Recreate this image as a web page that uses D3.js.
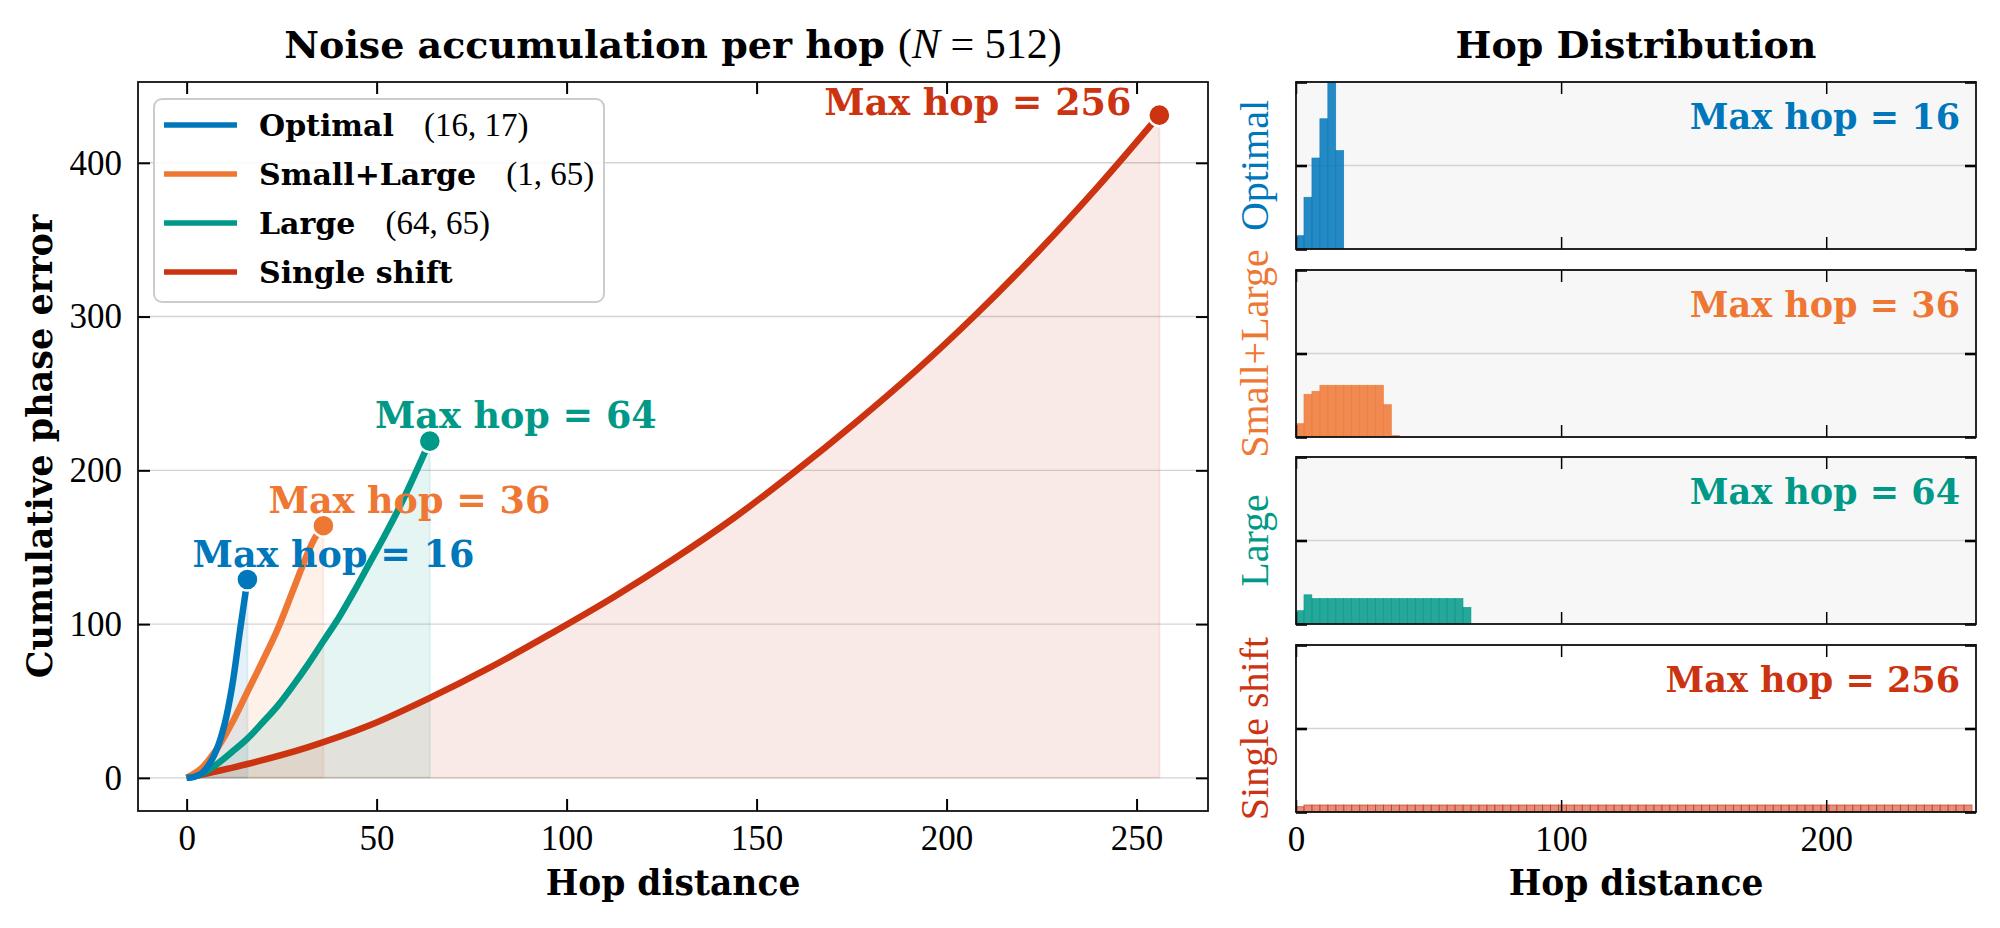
<!DOCTYPE html>
<html>
<head>
<meta charset="utf-8">
<script src="https://cdn.jsdelivr.net/npm/d3@7"></script>
<style>
  body { margin: 0; background: #fff; }
  svg { display: block; }
</style>
</head>
<body>
<script>
// ---- data ----
const seriesNames = ["Optimal", "Small+Large", "Large", "Single shift"];
const seriesPairs = ["(16, 17)", "(1, 65)", "(64, 65)", ""];
const seriesColors = ["#0077BB", "#EE7733", "#009988", "#CC3311"];
const maxHops = [16, 36, 64, 256];

// cumulative phase error vs hop distance
const optimalHop = [0, 2, 4, 6, 8, 10, 12, 14, 16];
const optimalErr = [0, 0.7, 3, 9, 19, 35, 60, 95, 129];
const smallLargeHop = [0, 4, 8, 12, 16, 20, 24, 28, 32, 34, 36];
const smallLargeErr = [0, 6.5, 19, 36, 56, 76, 97, 122, 147, 157, 164];
const largeHop = [0, 4, 8, 12, 16, 20, 24, 28, 32, 36, 40, 44, 48, 52, 56, 60, 64];
const largeErr = [0, 2.6, 9, 17, 25.5, 36, 47, 60, 74, 89, 104, 121, 139, 157, 176, 197, 219];
const singleHop = [0, 16, 32, 48, 64, 80, 96, 112, 128, 144, 160, 176, 192, 208, 224, 240, 256];
const singleErr = [0, 9, 20, 34, 52, 72, 94, 117, 142, 169, 199, 231, 265, 302, 342, 385, 431];

// hop histograms (bins of width 3 starting at 0, heights relative to panel top)
const histBinWidth = 3;
const optimalHist = [0.08, 0.31, 0.545, 0.78, 1.2, 0.59];
const smallLargeHist = [0.08, 0.256, 0.274, 0.31, 0.31, 0.31, 0.31, 0.31, 0.31, 0.31, 0.31, 0.194, 0.01];
const largeHist = [0.08, 0.175, 0.153, 0.153, 0.153, 0.153, 0.153, 0.153, 0.153, 0.153, 0.153,
                   0.153, 0.153, 0.153, 0.153, 0.153, 0.153, 0.153, 0.153, 0.153, 0.153, 0.10];
const singleHist = [0.032, 0.042, 0.042, 0.042, 0.042, 0.042, 0.042, 0.042, 0.042, 0.042, 0.042, 0.042, 0.042, 0.042, 0.042, 0.042, 0.042,
                    0.042, 0.042, 0.042, 0.042, 0.042, 0.042, 0.042, 0.042, 0.042, 0.042, 0.042, 0.042, 0.042, 0.042, 0.042, 0.042, 0.042,
                    0.042, 0.042, 0.042, 0.042, 0.042, 0.042, 0.042, 0.042, 0.042, 0.042, 0.042, 0.042, 0.042, 0.042, 0.042, 0.042, 0.042,
                    0.042, 0.042, 0.042, 0.042, 0.042, 0.042, 0.042, 0.042, 0.042, 0.042, 0.042, 0.042, 0.042, 0.042, 0.042, 0.042, 0.042,
                    0.042, 0.042, 0.042, 0.042, 0.042, 0.042, 0.042, 0.042, 0.042, 0.042, 0.042, 0.042, 0.042, 0.042, 0.042, 0.042, 0.042];

const xTicksLeft = [0, 50, 100, 150, 200, 250];
const yTicksLeft = [0, 100, 200, 300, 400];
const xTicksRight = [0, 100, 200];
const yTicksRight = [0, 0.5, 1];

// ---- layout ----
const W = 2000, H = 928;
const BOLD = "'DejaVu Serif', serif";
const REG = "'Liberation Serif', serif";

const curves = [
  d3.zip(optimalHop, optimalErr),
  d3.zip(smallLargeHop, smallLargeErr),
  d3.zip(largeHop, largeErr),
  d3.zip(singleHop, singleErr)
];
const hists = [optimalHist, smallLargeHist, largeHist, singleHist];

const svg = d3.select("body").append("svg")
  .attr("width", W).attr("height", H)
  .attr("xmlns", "http://www.w3.org/2000/svg");

// ===== left panel =====
const L = { x0: 138, x1: 1208, y0: 82, y1: 811 };
const x = d3.scaleLinear().domain([-12.8, 268.8]).range([L.x0, L.x1]);
const y = d3.scaleLinear().domain([-21.55, 452.55]).range([L.y1, L.y0]);

svg.append("clipPath").attr("id", "clipL")
  .append("rect").attr("x", L.x0).attr("y", L.y0)
  .attr("width", L.x1 - L.x0).attr("height", L.y1 - L.y0);

const gL = svg.append("g");

// grid
gL.append("g").selectAll("line").data(yTicksLeft).join("line")
  .attr("x1", L.x0).attr("x2", L.x1)
  .attr("y1", d => y(d)).attr("y2", d => y(d))
  .attr("stroke", "#d4d4d4").attr("stroke-width", 1.4);

const plot = gL.append("g").attr("clip-path", "url(#clipL)");

const smooth = d3.curveCatmullRom.alpha(0.5);
const area = d3.area()
  .x(d => x(d[0])).y0(y(0)).y1(d => y(d[1]))
  .curve(smooth);
const line = d3.line()
  .x(d => x(d[0])).y(d => y(d[1]))
  .curve(smooth);

// fills first
curves.forEach((c, i) => {
  plot.append("path").attr("d", area(c))
    .attr("fill", seriesColors[i]).attr("fill-opacity", 0.1)
    .attr("stroke", seriesColors[i]).attr("stroke-opacity", 0.1)
    .attr("stroke-width", 2);
});

// lines: widest series first so the short ones stay on top
[3, 2, 1, 0].forEach(i => {
  plot.append("path").attr("d", line(curves[i]))
    .attr("fill", "none").attr("stroke", seriesColors[i])
    .attr("stroke-width", 6.5);
});

// end markers
curves.forEach((c, i) => {
  const last = c[c.length - 1];
  plot.append("circle")
    .attr("cx", x(last[0])).attr("cy", y(last[1])).attr("r", 11)
    .attr("fill", seriesColors[i]).attr("stroke", "#fff").attr("stroke-width", 2.4);
});

// annotations
curves.forEach((c, i) => {
  const last = c[c.length - 1];
  const isLast = i === 3;
  gL.append("text")
    .attr("x", isLast ? x(last[0]) - 28 : x(last[0]) + 86)
    .attr("y", isLast ? y(last[1]) : y(last[1]) - 13)
    .attr("text-anchor", isLast ? "end" : "middle")
    .attr("font-family", BOLD).attr("font-weight", "bold")
    .attr("font-size", 36.5).attr("fill", seriesColors[i])
    .text(`Max hop = ${maxHops[i]}`);
});

// axes (ticks inward on all four sides)
function styleAxis(g) {
  g.select(".domain").remove();
  g.selectAll(".tick line").attr("stroke", "#000").attr("stroke-width", 2);
  g.selectAll(".tick text").attr("font-family", REG).attr("font-size", 35).attr("fill", "#000");
}
gL.append("g").attr("transform", `translate(0,${L.y1})`)
  .call(d3.axisBottom(x).tickValues(xTicksLeft).tickSize(-12).tickPadding(14))
  .call(styleAxis);
gL.append("g").attr("transform", `translate(0,${L.y0})`)
  .call(d3.axisTop(x).tickValues(xTicksLeft).tickSize(-12).tickFormat(""))
  .call(styleAxis);
gL.append("g").attr("transform", `translate(${L.x0},0)`)
  .call(d3.axisLeft(y).tickValues(yTicksLeft).tickSize(-12).tickPadding(16))
  .call(styleAxis);
gL.append("g").attr("transform", `translate(${L.x1},0)`)
  .call(d3.axisRight(y).tickValues(yTicksLeft).tickSize(-12).tickFormat(""))
  .call(styleAxis);

gL.append("rect").attr("x", L.x0).attr("y", L.y0)
  .attr("width", L.x1 - L.x0).attr("height", L.y1 - L.y0)
  .attr("fill", "none").attr("stroke", "#111").attr("stroke-width", 1.8);

// legend
const leg = gL.append("g");
leg.append("rect").attr("x", 154).attr("y", 99).attr("width", 450).attr("height", 203)
  .attr("rx", 8).attr("fill", "#fff").attr("fill-opacity", 0.85)
  .attr("stroke", "#cccccc").attr("stroke-width", 2);
seriesNames.forEach((name, i) => {
  const ry = 125 + i * 49;
  leg.append("line").attr("x1", 164).attr("x2", 237).attr("y1", ry).attr("y2", ry)
    .attr("stroke", seriesColors[i]).attr("stroke-width", 5.5);
  const t = leg.append("text").attr("x", 259).attr("y", ry + 11).attr("fill", "#000");
  t.append("tspan").attr("font-family", BOLD).attr("font-weight", "bold")
    .attr("font-size", 30).text(name);
  if (seriesPairs[i]) {
    t.append("tspan").attr("dx", 30).attr("font-family", REG)
      .attr("font-size", 33).text(seriesPairs[i]);
  }
});

// titles and labels
const titleL = svg.append("text").attr("x", (L.x0 + L.x1) / 2).attr("y", 58)
  .attr("text-anchor", "middle").attr("fill", "#000");
titleL.append("tspan").attr("font-family", BOLD).attr("font-weight", "bold")
  .attr("font-size", 38).text("Noise accumulation per hop ");
titleL.append("tspan").attr("font-family", REG).attr("font-size", 42).text("(");
titleL.append("tspan").attr("font-family", REG).attr("font-size", 42)
  .attr("font-style", "italic").text("N");
titleL.append("tspan").attr("font-family", REG).attr("font-size", 42).text(" = 512)");

svg.append("text").attr("x", (L.x0 + L.x1) / 2).attr("y", 895)
  .attr("text-anchor", "middle").attr("font-family", BOLD).attr("font-weight", "bold")
  .attr("font-size", 34.5).text("Hop distance");

svg.append("text")
  .attr("transform", `translate(52,${(L.y0 + L.y1) / 2}) rotate(-90)`)
  .attr("text-anchor", "middle").attr("font-family", BOLD).attr("font-weight", "bold")
  .attr("font-size", 35).text("Cumulative phase error");

// ===== right panels =====
const R = { x0: 1296, x1: 1976, h: 167 };
const panelTops = [82, 270, 457, 645];
const panelBg = ["#f7f7f7", "#f7f7f7", "#f7f7f7", "#ffffff"];
const xr = d3.scaleLinear().domain([0, 256.5]).range([R.x0, R.x1]);

hists.forEach((hist, i) => {
  const top = panelTops[i];
  const yr = d3.scaleLinear().domain([0, 1]).range([top + R.h, top]);
  const g = svg.append("g");
  const clipId = "clipR" + i;

  svg.append("clipPath").attr("id", clipId)
    .append("rect").attr("x", R.x0).attr("y", top)
    .attr("width", R.x1 - R.x0).attr("height", R.h);

  g.append("rect").attr("x", R.x0).attr("y", top)
    .attr("width", R.x1 - R.x0).attr("height", R.h).attr("fill", panelBg[i]);

  g.append("g").selectAll("line").data(yTicksRight).join("line")
    .attr("x1", R.x0).attr("x2", R.x1)
    .attr("y1", d => yr(d)).attr("y2", d => yr(d))
    .attr("stroke", "#d4d4d4").attr("stroke-width", 1.4);

  const single = i === 3;
  g.append("g").attr("clip-path", `url(#${clipId})`)
    .selectAll("rect").data(hist).join("rect")
    .attr("x", (d, k) => xr(k * histBinWidth))
    .attr("width", xr(histBinWidth) - xr(0))
    .attr("y", d => yr(d))
    .attr("height", d => yr(0) - yr(d))
    .attr("fill", seriesColors[i]).attr("fill-opacity", single ? 0.55 : 0.85)
    .attr("stroke", seriesColors[i]).attr("stroke-opacity", single ? 0.6 : 0.85)
    .attr("stroke-width", single ? 1 : 0.6);

  g.append("text").attr("x", R.x1 - 16).attr("y", top + 47)
    .attr("text-anchor", "end").attr("font-family", BOLD).attr("font-weight", "bold")
    .attr("font-size", 35).attr("fill", seriesColors[i])
    .text(`Max hop = ${maxHops[i]}`);

  g.append("g").attr("transform", `translate(0,${top + R.h})`)
    .call(d3.axisBottom(xr).tickValues(xTicksRight).tickSize(-12).tickPadding(14)
      .tickFormat(single ? d3.format("d") : ""))
    .call(styleAxis)
    .call(a => a.selectAll(".tick line").attr("stroke-width", 1.5));
  g.append("g").attr("transform", `translate(0,${top})`)
    .call(d3.axisTop(xr).tickValues(xTicksRight).tickSize(-12).tickFormat(""))
    .call(styleAxis)
    .call(a => a.selectAll(".tick line").attr("stroke-width", 1.5));
  g.append("g").attr("transform", `translate(${R.x0},0)`)
    .call(d3.axisLeft(yr).tickValues(yTicksRight).tickSize(-11).tickFormat(""))
    .call(styleAxis)
    .call(a => a.selectAll(".tick line").attr("stroke-width", 2.6));
  g.append("g").attr("transform", `translate(${R.x1},0)`)
    .call(d3.axisRight(yr).tickValues(yTicksRight).tickSize(-11).tickFormat(""))
    .call(styleAxis)
    .call(a => a.selectAll(".tick line").attr("stroke-width", 2.6));

  g.append("rect").attr("x", R.x0).attr("y", top)
    .attr("width", R.x1 - R.x0).attr("height", R.h)
    .attr("fill", "none").attr("stroke", "#111").attr("stroke-width", 1.8);

  svg.append("text")
    .attr("transform", `translate(1268,${top + R.h / 2}) rotate(-90)`)
    .attr("text-anchor", "middle").attr("font-family", REG)
    .attr("font-size", 40).attr("fill", seriesColors[i])
    .text(seriesNames[i]);
});

svg.append("text").attr("x", (R.x0 + R.x1) / 2).attr("y", 58)
  .attr("text-anchor", "middle").attr("font-family", BOLD).attr("font-weight", "bold")
  .attr("font-size", 38).text("Hop Distribution");

svg.append("text").attr("x", (R.x0 + R.x1) / 2).attr("y", 895)
  .attr("text-anchor", "middle").attr("font-family", BOLD).attr("font-weight", "bold")
  .attr("font-size", 34.5).text("Hop distance");
</script>
</body>
</html>
